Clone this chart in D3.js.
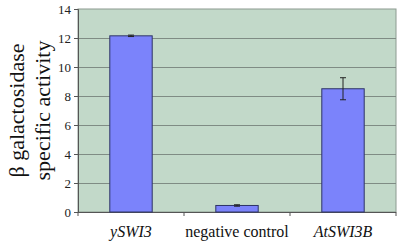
<!DOCTYPE html>
<html>
<head>
<meta charset="utf-8">
<script src="https://cdn.jsdelivr.net/npm/d3@7"></script>
<style>
  body { margin: 0; background: #fff; }
</style>
</head>
<body>
<svg width="400" height="243"></svg>
<script>
// chart values
var categories = ['ySWI3', 'negative control', 'AtSWI3B'];
var italicCats = [true, false, true];
var activity = [12.15, 0.45, 8.5];
var errors = [0.05, 0.05, 0.76];
var yTicks = [0, 2, 4, 6, 8, 10, 12, 14];

var serif = "'Liberation Serif', 'DejaVu Serif', serif";

var svg = d3.select('svg');
var padding = { t: 9, r: 4, b: 31, l: 78 };
var chartWidth = 400 - padding.l - padding.r;
var chartHeight = 243 - padding.t - padding.b;

var chartG = svg.append('g')
    .attr('transform', `translate(${padding.l}, ${padding.t})`);

var xBandScale = d3.scaleBand()
    .domain(categories)
    .range([0, chartWidth])
    .paddingInner(0.6)
    .paddingOuter(0.3);

var yScale = d3.scaleLinear()
    .domain([0, 14])
    .range([chartHeight, 0]);

// plot background
chartG.append('rect')
    .attr('width', chartWidth)
    .attr('height', chartHeight)
    .attr('fill', '#c2d9c9')
    .attr('stroke', '#8c9a90')
    .attr('stroke-width', 1);

// gridlines
chartG.selectAll('.grid')
    .data(yTicks.filter(d => d > 0 && d < 14))
    .enter()
    .append('line')
    .attr('x1', 0)
    .attr('x2', chartWidth)
    .attr('y1', d => Math.round(yScale(d)) + 0.5)
    .attr('y2', d => Math.round(yScale(d)) + 0.5)
    .attr('stroke', '#7f8c84')
    .attr('stroke-width', 1);

// y axis
var yAxis = chartG.append('g')
    .call(d3.axisLeft(yScale).tickValues(yTicks).tickSize(4).tickPadding(3))
    .attr('font-family', serif)
    .attr('font-size', 13);
yAxis.select('.domain').attr('stroke', '#555');
yAxis.selectAll('.tick line').attr('stroke', '#555');
yAxis.selectAll('text').attr('fill', '#222');

// x axis: ticks sit between categories
var xAxisG = chartG.append('g')
    .attr('transform', `translate(0, ${chartHeight})`)
    .attr('font-family', serif)
    .attr('font-size', 16);
xAxisG.append('line')
    .attr('x1', 0).attr('x2', chartWidth)
    .attr('y1', 0.5).attr('y2', 0.5)
    .attr('stroke', '#555');
var step = chartWidth / categories.length;
xAxisG.selectAll('.xtick')
    .data(d3.range(categories.length + 1))
    .enter()
    .append('line')
    .attr('x1', i => i * step)
    .attr('x2', i => i * step)
    .attr('y1', 0)
    .attr('y2', 4)
    .attr('stroke', '#555');
xAxisG.selectAll('.xlabel')
    .data(categories)
    .enter()
    .append('text')
    .attr('x', d => xBandScale(d) + xBandScale.bandwidth() / 2)
    .attr('y', 25)
    .attr('text-anchor', 'middle')
    .attr('font-style', (d, i) => italicCats[i] ? 'italic' : 'normal')
    .attr('fill', '#111')
    .text(d => d);

// bars
chartG.selectAll('.bar')
    .data(categories)
    .enter()
    .append('rect')
    .attr('class', 'bar')
    .attr('x', d => xBandScale(d))
    .attr('y', (d, i) => yScale(activity[i]))
    .attr('width', xBandScale.bandwidth())
    .attr('height', (d, i) => chartHeight - yScale(activity[i]))
    .attr('fill', '#7b83fb')
    .attr('stroke', '#2e3466')
    .attr('stroke-width', 1);

// error bars
var errG = chartG.selectAll('.err')
    .data(categories)
    .enter()
    .append('g')
    .attr('transform', d => `translate(${xBandScale(d) + xBandScale.bandwidth() / 2}, 0)`);
errG.append('line')
    .attr('y1', (d, i) => yScale(activity[i] + errors[i]))
    .attr('y2', (d, i) => yScale(activity[i] - errors[i]))
    .attr('stroke', '#222');
errG.append('line')
    .attr('x1', -3).attr('x2', 3)
    .attr('y1', (d, i) => yScale(activity[i] + errors[i]))
    .attr('y2', (d, i) => yScale(activity[i] + errors[i]))
    .attr('stroke', '#222');
errG.append('line')
    .attr('x1', -3).attr('x2', 3)
    .attr('y1', (d, i) => yScale(activity[i] - errors[i]))
    .attr('y2', (d, i) => yScale(activity[i] - errors[i]))
    .attr('stroke', '#222');

// y axis title, two lines
var title = svg.append('text')
    .attr('transform', `translate(0, ${padding.t + chartHeight / 2}) rotate(-90)`)
    .attr('text-anchor', 'middle')
    .attr('font-family', serif)
    .attr('font-size', 22)
    .attr('fill', '#111');
title.append('tspan').attr('x', 0).attr('y', 24).text('\u03b2 galactosidase');
title.append('tspan').attr('x', 0).attr('y', 50).text('specific activity');
</script>
</body>
</html>
